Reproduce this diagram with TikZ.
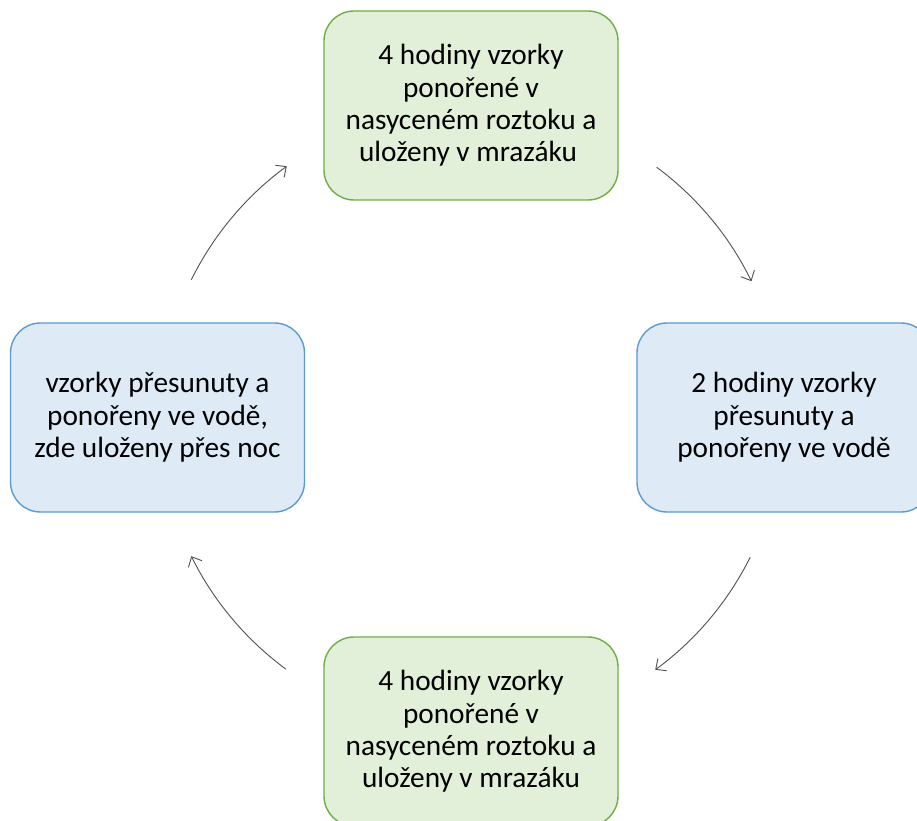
\documentclass[tikz,border=0pt]{standalone}
\usepackage{fontspec}
\setmainfont{Carlito}
\usetikzlibrary{arrows.meta,calc}
\definecolor{gfill}{HTML}{E2EFD9}
\definecolor{gline}{HTML}{70AD47}
\definecolor{bfill}{HTML}{DEEBF7}
\definecolor{bline}{HTML}{5B9BD5}
\definecolor{arr}{HTML}{505050}
\tikzset{
  stepbox/.style={rectangle, rounded corners=30pt, minimum width=294pt, minimum height=189pt,
    line width=1.4pt, align=center, inner sep=0pt,
    font=\fontsize{29.3}{32.4}\selectfont},
  greenbox/.style={stepbox, draw=gline, fill=gfill},
  bluebox/.style={stepbox, draw=bline, fill=bfill},
  cyc/.style={draw=arr, line width=0.9pt, -{Straight Barb[length=8pt,width=15pt,line width=0.9pt]}}
}
\begin{document}
\begin{tikzpicture}[x=1pt,y=1pt]
\useasboundingbox (0,0) rectangle (917,820);
\clip (0,0) rectangle (917,820);
\fill[white] (0,0) rectangle (917,820);
\node[greenbox] (top) at (471,714.5) {4 hodiny vzorky\\ponořené v\\nasyceném roztoku a\\uloženy v mrazáku\hspace*{6pt}};
\node[bluebox] (right) at (784,402.5) {2 hodiny vzorky\\přesunuty a\\ponořeny ve vodě};
\node[greenbox] (bottom) at (471,88.5) {4 hodiny vzorky\\ponořené v\\nasyceném roztoku a\\uloženy v mrazáku};
\node[bluebox] (left) at (157.5,402.5) {vzorky přesunuty a\\ponořeny ve vodě,\\zde uloženy přes noc};
\coordinate (c) at (471,402);
\coordinate (a1) at ($(c)+(53.5:312)$);
\coordinate (a2) at ($(c)+(-26.5:312)$);
\coordinate (a3) at ($(c)+(-126.4:312)$);
\coordinate (a4) at ($(c)+(153.7:312)$);
\draw[cyc] (a1) arc[start angle=53.5, end angle=26, radius=312];
\draw[cyc] (a2) arc[start angle=-26.5, end angle=-53.8, radius=312];
\draw[cyc] (a3) arc[start angle=-126.4, end angle=-153.7, radius=312];
\draw[cyc] (a4) arc[start angle=153.7, end angle=126.2, radius=312];
\end{tikzpicture}
\end{document}
